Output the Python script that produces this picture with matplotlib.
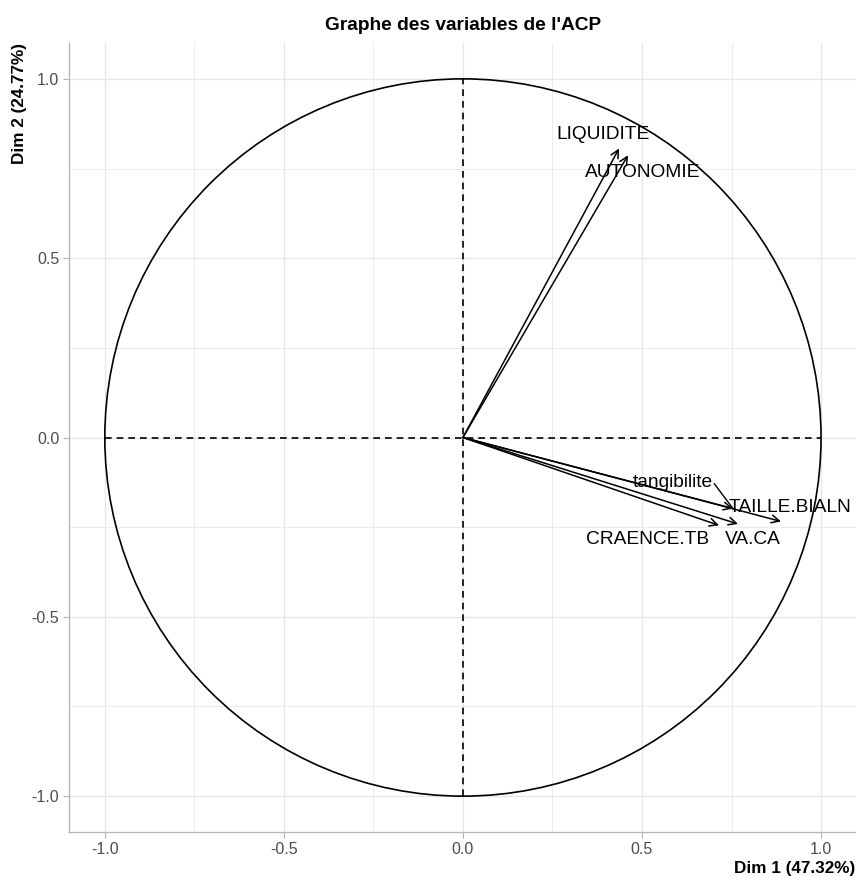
import numpy as np
import matplotlib.pyplot as plt
from matplotlib.patches import Circle

plt.rcParams['font.family'] = ['Liberation Sans', 'DejaVu Sans']

# Coordinates of the variables on the first two dimensions
variables = ["LIQUIDITE", "AUTONOMIE", "tangibilite", "TAILLE.BIALN", "VA.CA", "CRAENCE.TB"]
dim1 = [0.436, 0.461, 0.754, 0.888, 0.768, 0.715]
dim2 = [0.806, 0.787, -0.198, -0.234, -0.241, -0.245]

# Label positions (repelled, as in the original)
label_x = [0.390, 0.501, 0.587, 0.913, 0.810, 0.515]
label_y = [0.845, 0.739, -0.126, -0.195, -0.285, -0.285]

ticks = [-1.0, -0.5, 0.0, 0.5, 1.0]
minor_ticks = [-0.75, -0.25, 0.25, 0.75]

title = "Graphe des variables de l'ACP"
xlab = "Dim 1 (47.32%)"
ylab = "Dim 2 (24.77%)"

W, H = 856, 876
fig = plt.figure(figsize=(W / 100, H / 100), dpi=100)
ax = fig.add_axes([69 / W, (H - 832) / H, (W - 69) / W + 0.001, (832 - 43) / H])

ax.set_xlim(-1.1, 1.1)
ax.set_ylim(-1.1, 1.1)

ax.set_xticks(ticks)
ax.set_yticks(ticks)
ax.set_xticks(minor_ticks, minor=True)
ax.set_yticks(minor_ticks, minor=True)
ax.set_xticklabels([f"{t:.1f}" for t in ticks])
ax.set_yticklabels([f"{t:.1f}" for t in ticks])
ax.grid(True, which='major', color='#e6e6e6', lw=0.9)
ax.grid(True, which='minor', color='#ececec', lw=0.7)
ax.set_axisbelow(True)

for s in ['top', 'right']:
    ax.spines[s].set_visible(False)
for s in ['left', 'bottom']:
    ax.spines[s].set_color('#b3b3b3')
    ax.spines[s].set_linewidth(0.9)
ax.tick_params(which='major', length=4, color='#b3b3b3', labelcolor='#4d4d4d',
               labelsize=11.5, pad=3)
ax.tick_params(which='minor', length=0)

# correlation circle
ax.add_patch(Circle((0, 0), 1.0, fill=False, color='black', lw=1.2))
ax.plot([-1, 1], [0, 0], ls=(0, (4, 3)), color='black', lw=1.2)
ax.plot([0, 0], [-1, 1], ls=(0, (4, 3)), color='black', lw=1.2)

for v, x, y, lx, ly in zip(variables, dim1, dim2, label_x, label_y):
    ax.annotate('', xy=(x, y), xytext=(0, 0),
                arrowprops=dict(arrowstyle='->', color='black', lw=1.1,
                                mutation_scale=14, shrinkA=0, shrinkB=0))
    ax.text(lx, ly, v, ha='center', va='center', fontsize=13.8, color='black')

# segment linking the tangibilite label to its arrow
i = variables.index("tangibilite")
ax.plot([label_x[i] + 0.115, dim1[i]], [label_y[i] - 0.003, dim2[i]], color='black', lw=1.0)

fig.text(463 / W, 1 - 25 / H, title, ha='center', va='center', fontsize=13.8, fontweight='bold')
fig.text(855 / W, 1 - 868 / H, xlab, ha='right', va='center', fontsize=12.3, fontweight='bold')
fig.text(20 / W, 1 - 43 / H, ylab, ha='center', va='top', rotation=90, fontsize=12.3, fontweight='bold')

fig.savefig("out.png", dpi=100)
